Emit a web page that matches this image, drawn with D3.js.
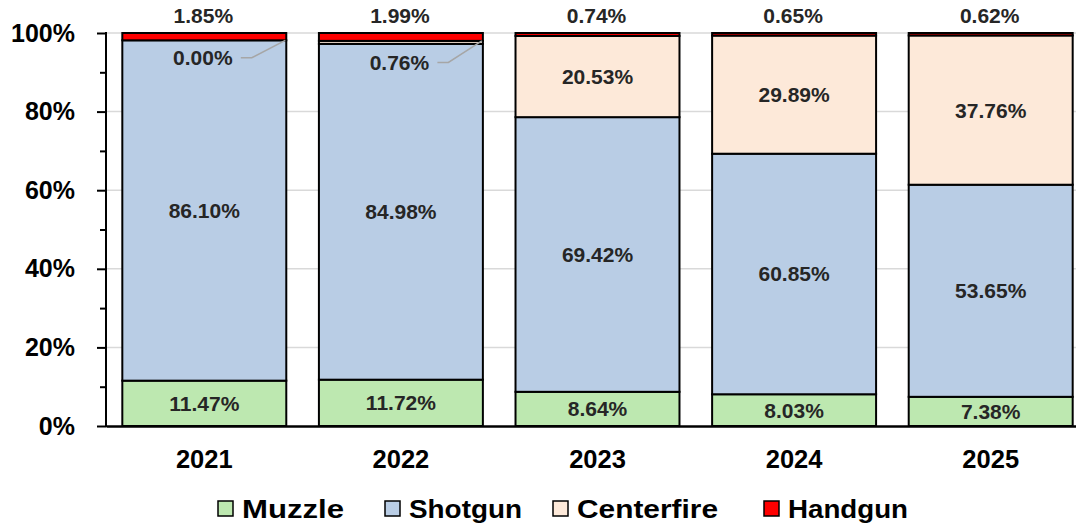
<!DOCTYPE html>
<html>
<head>
<meta charset="utf-8">
<script src="https://cdn.jsdelivr.net/npm/d3@7"></script>
<style>
  body { margin: 0; background: #fff; }
  text { font-family: Arial, "Liberation Sans", sans-serif; }
</style>
</head>
<body>
<svg id="chart" width="1076" height="527"></svg>
<script>
// data
var years = ['2021', '2022', '2023', '2024', '2025'];
var muzzle = [11.47, 11.72, 8.64, 8.03, 7.38];
var shotgun = [86.10, 84.98, 69.42, 60.85, 53.65];
var centerfire = [0.00, 0.76, 20.53, 29.89, 37.76];
var handgun = [1.85, 1.99, 0.74, 0.65, 0.62];
var seriesNames = ['Muzzle', 'Shotgun', 'Centerfire', 'Handgun'];
var yTicks = [0, 0.2, 0.4, 0.6, 0.8, 1];

var colors = {Muzzle: '#bde8b0', Shotgun: '#b9cde5', Centerfire: '#fde9d9', Handgun: '#ff0000'};

var svg = d3.select('#chart');
var mLeft = 106, mRight = 1089, mTop = 33, mBottom = 426;

var rows = years.map(function(y, i) {
  return {year: y, Muzzle: muzzle[i], Shotgun: shotgun[i], Centerfire: centerfire[i], Handgun: handgun[i]};
});

var stack = d3.stack().keys(seriesNames).offset(d3.stackOffsetExpand);
var layers = stack(rows);

var x = d3.scaleBand().domain(years).range([mLeft, mRight]).paddingInner(0.166).paddingOuter(0.083);
var y = d3.scaleLinear().domain([0, 1]).range([mBottom, mTop]);

// gridlines
svg.append('g').selectAll('line').data(yTicks.slice(1)).enter().append('line')
    .attr('x1', mLeft).attr('x2', mRight)
    .attr('y1', function(d) { return y(d) }).attr('y2', function(d) { return y(d) })
    .attr('stroke', '#d9d9d9').attr('stroke-width', 1.5);

// bars
var g = svg.append('g');
layers.forEach(function(layer) {
  g.selectAll(null).data(layer).enter().append('rect')
      .attr('x', function(d) { return x(d.data.year) })
      .attr('width', x.bandwidth())
      .attr('y', function(d) { return y(d[1]) })
      .attr('height', function(d) { return y(d[0]) - y(d[1]) })
      .attr('fill', colors[layer.key])
      .attr('stroke', '#000')
      .attr('stroke-width', 2);
});

// y axis
var yAxis = d3.axisLeft(y).tickValues(yTicks).tickSize(9).tickFormat(d3.format('.0%'));
var ya = svg.append('g').attr('transform', 'translate(' + mLeft + ',0)').call(yAxis);
ya.select('.domain').remove();
ya.selectAll('.tick line').attr('stroke', '#000').attr('stroke-width', 2);
ya.selectAll('.tick text').attr('x', -31).attr('font-size', 25).attr('font-weight', 'bold').attr('fill', '#000');
var minor = d3.axisLeft(y).tickValues([0.1, 0.3, 0.5, 0.7, 0.9]).tickSize(6).tickFormat('');
var ym = svg.append('g').attr('transform', 'translate(' + mLeft + ',0)').call(minor);
ym.select('.domain').remove();
ym.selectAll('.tick line').attr('stroke', '#000').attr('stroke-width', 2);
svg.append('line').attr('x1', mLeft).attr('x2', mLeft).attr('y1', mTop - 1).attr('y2', mBottom + 1)
    .attr('stroke', '#000').attr('stroke-width', 2);

// x axis
var xa = svg.append('g').attr('transform', 'translate(0,' + mBottom + ')')
    .call(d3.axisBottom(x).tickSize(0).tickPadding(24));
xa.select('.domain').attr('stroke', '#000').attr('stroke-width', 2.5);
xa.selectAll('.tick text').attr('font-size', 25.5).attr('font-weight', 'bold').attr('fill', '#000');

// labels
function label(xp, yp, txt) {
  svg.append('text').attr('x', xp).attr('y', yp).attr('text-anchor', 'middle')
      .attr('dominant-baseline', 'central').attr('font-size', 21).attr('font-weight', 'bold')
      .attr('fill', '#262626').text(txt);
}
var fmt = function(v) { return v.toFixed(2) + '%' };
var mid = function(d) { return y((d[0] + d[1]) / 2) };
var cx = function(d) { return x(d.data.year) + x.bandwidth() / 2 };

layers[0].forEach(function(d, i) { label(cx(d), mid(d), fmt(muzzle[i])) });
layers[1].forEach(function(d, i) { label(cx(d), mid(d), fmt(shotgun[i])) });
layers[2].forEach(function(d, i) {
  if (i < 2) {
    // small values pulled out with leader lines
    var lx = cx(d) - 1.5, ly = y(0.937 - i * 0.012);
    label(lx, ly, fmt(centerfire[i]));
    var ex = lx + 38;
    svg.append('polyline')
        .attr('points', [[ex, ly], [ex + 11, ly], [x(d.data.year) + x.bandwidth() - 1, y(d[1])]].join(' '))
        .attr('fill', 'none').attr('stroke', '#a6a6a6').attr('stroke-width', 1.5);
  } else {
    label(cx(d), mid(d), fmt(centerfire[i]));
  }
});
layers[3].forEach(function(d, i) { label(cx(d) - 1, 15, fmt(handgun[i])) });

// legend
var legendX = [218, 385, 553, 764];
var legendW = [102, 113, 141, 120];
var lg = svg.append('g');
seriesNames.forEach(function(name, i) {
  lg.append('rect').attr('x', legendX[i]).attr('y', 501).attr('width', 15).attr('height', 15)
      .attr('fill', colors[name]).attr('stroke', '#000').attr('stroke-width', 1.5);
  lg.append('text').attr('x', legendX[i] + 24).attr('y', 509).attr('dominant-baseline', 'central')
      .attr('font-size', 26).attr('font-weight', 'bold').attr('fill', '#000')
      .attr('textLength', legendW[i]).attr('lengthAdjust', 'spacingAndGlyphs').text(name);
});
</script>
</body>
</html>
